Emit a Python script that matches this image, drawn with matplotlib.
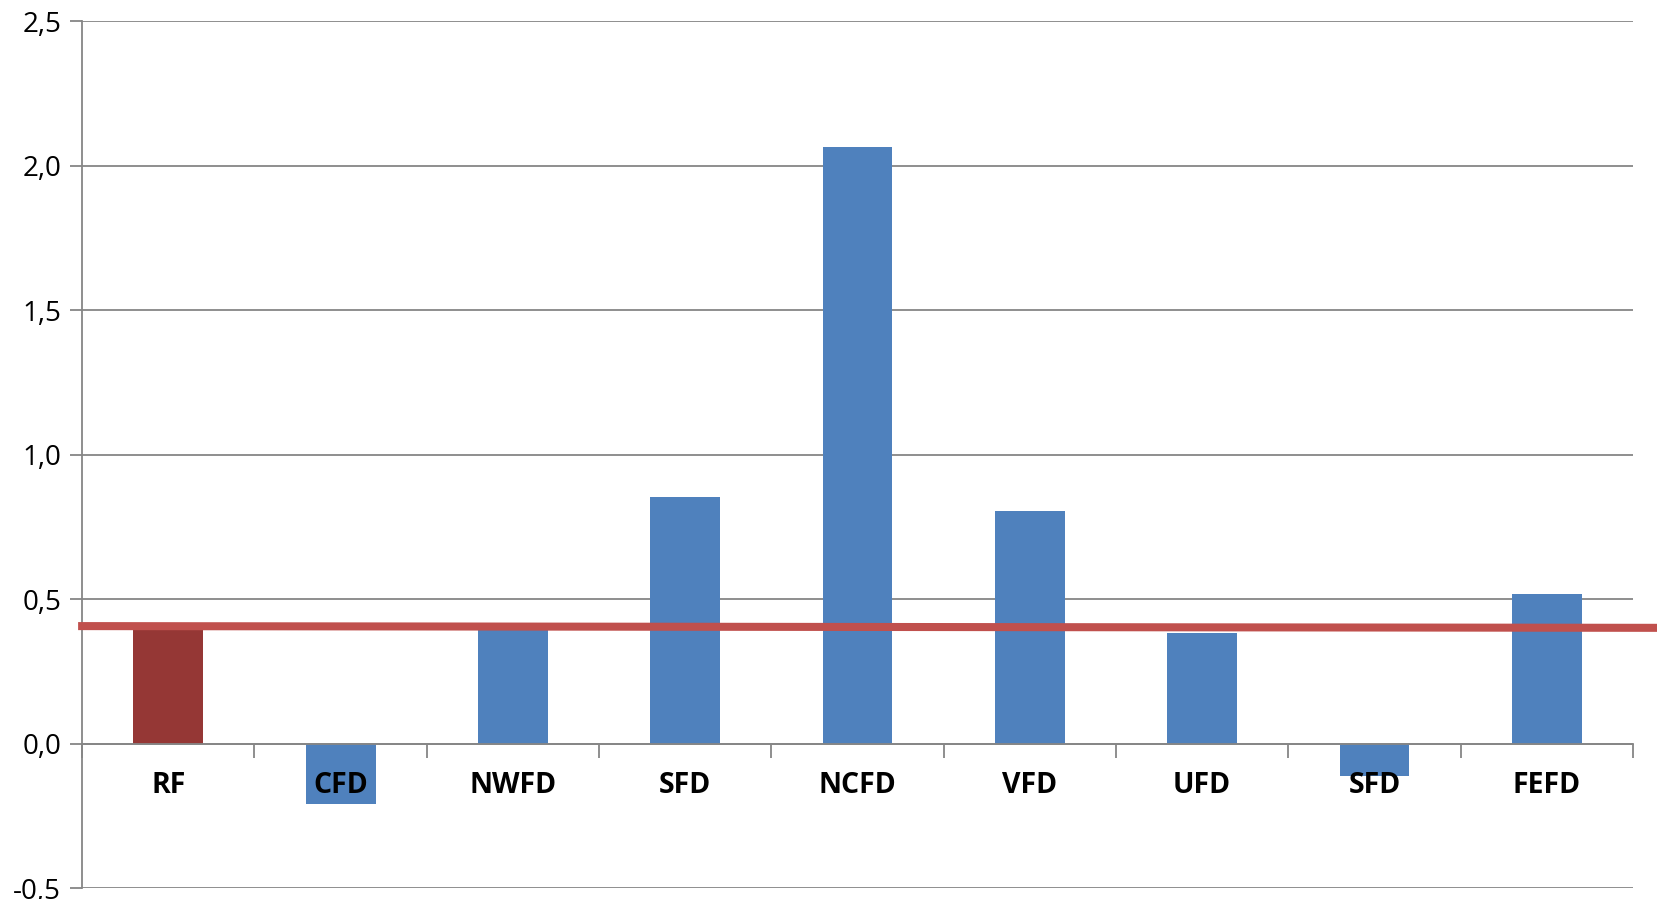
import numpy as np
import matplotlib.pyplot as plt

# data
regions = ["RF", "CFD", "NWFD", "SFD", "NCFD", "VFD", "UFD", "SFD", "FEFD"]
values = [0.395, -0.209, 0.398, 0.852, 2.065, 0.805, 0.382, -0.112, 0.517]
bar_colors = ["#953735"] + ["#4F81BD"] * 8
# horizontal reference line (left end, right end)
ref_x = [-0.523, 8.646]
ref_y = [0.407, 0.401]

y_ticks = [-0.5, 0.0, 0.5, 1.0, 1.5, 2.0, 2.5]
grid_color = "#868686"

plt.rcParams['font.family'] = ['Open Sans', 'DejaVu Sans']

fig = plt.figure(figsize=(16.58, 8.99), dpi=100)
ax = fig.add_axes([0.0495, 0.0119, 0.9354, 0.9647])

x = np.arange(len(regions))
ax.bar(x, values, width=0.406, color=bar_colors, zorder=2)
ax.plot(ref_x, ref_y, color="#C0504D", lw=5.8, solid_capstyle="butt",
        clip_on=False, zorder=4)

ax.set_xlim(-0.5, len(regions) - 0.5)
ax.set_ylim(-0.5, 2.5)

# y axis
ax.set_yticks(y_ticks)
ax.set_yticklabels([f"{v:.1f}".replace(".", ",") for v in y_ticks], fontsize=20)
ax.tick_params(axis="y", length=9, width=1.3, color=grid_color, pad=6)
ax.yaxis.grid(True, color=grid_color, lw=1.3, zorder=0)
ax.set_axisbelow(True)

# x axis at zero: ticks between categories
ax.spines["bottom"].set_position(("data", 0))
ax.spines["bottom"].set_color(grid_color)
ax.spines["bottom"].set_linewidth(1.3)
ax.spines["bottom"].set_zorder(3)
ax.spines["left"].set_color(grid_color)
ax.spines["left"].set_linewidth(1.3)
ax.spines["top"].set_visible(False)
ax.spines["right"].set_visible(False)

ax.set_xticks(np.arange(len(regions) + 1) - 0.5)
ax.set_xticklabels([])
ax.tick_params(axis="x", which="major", length=10, width=1.3, color=grid_color)

# category labels drawn above the bars
for xi, name in zip(x, regions):
    ax.text(xi, -0.145, name, ha="center", va="center", fontsize=20.5,
            fontweight="bold", zorder=5)

fig.savefig("out.png", dpi=100)
